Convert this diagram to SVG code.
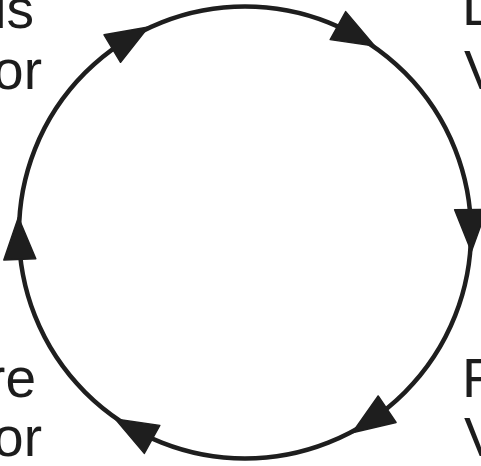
<svg xmlns="http://www.w3.org/2000/svg" width="481" height="466" viewBox="0 0 481 466">
<style>
.lbl{font-family:"Liberation Sans",Arial,sans-serif;font-size:55px;fill:#1c1c1c}
.ring{fill:none;stroke:#1e1e1e;stroke-width:4.5}
.head{fill:#1e1e1e;stroke:#1e1e1e;stroke-width:1.5;stroke-linejoin:round}
</style>
<defs>
<polygon id="ah" class="head" points="23,0 -19,-16 -19,16"/>
</defs>
<rect width="481" height="466" fill="#ffffff"/>
<g id="connectors">
<circle class="ring" cx="245" cy="232.5" r="226"/>
<use href="#ah" transform="translate(245,232.5) rotate(-121) translate(226,0) rotate(90)"/>
<use href="#ah" transform="translate(245,232.5) rotate(-61) translate(226,0) rotate(90)"/>
<use href="#ah" transform="translate(245,232.5) rotate(-1) translate(226,0) rotate(90)"/>
<use href="#ah" transform="translate(245,232.5) rotate(56) translate(226,0) rotate(90)"/>
<use href="#ah" transform="translate(245,232.5) rotate(119) translate(226,0) rotate(90)"/>
<use href="#ah" transform="translate(245,232.5) rotate(178) translate(226,0) rotate(90)"/>
</g>
<g id="node-top-left">
<text class="lbl" x="34" y="28" text-anchor="end">is</text>
<text class="lbl" x="42" y="89" text-anchor="end">or</text>
</g>
<g id="node-top-right">
<text class="lbl" x="462" y="25">L</text>
<text class="lbl" x="464" y="89">V</text>
</g>
<g id="node-bottom-left">
<text class="lbl" x="36" y="397" text-anchor="end">re</text>
<text class="lbl" x="42" y="456" text-anchor="end">or</text>
</g>
<g id="node-bottom-right">
<text class="lbl" x="462" y="397">F</text>
<text class="lbl" x="464" y="456">V</text>
</g>
</svg>
